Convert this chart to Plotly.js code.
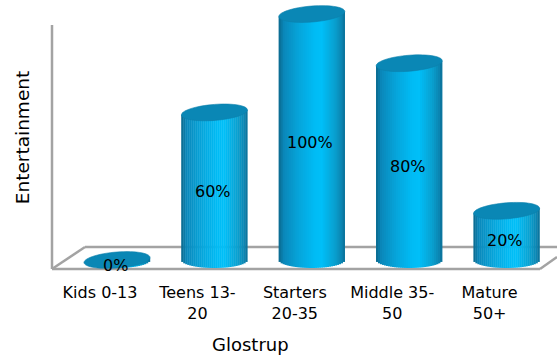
<!DOCTYPE html>
<html>
<head>
<meta charset="utf-8">
<script src="https://cdn.plot.ly/plotly-3.0.1.min.js"></script>
<style>
  html, body { margin: 0; padding: 0; background: #fff; }
  #chart { width: 557px; height: 355px; }
</style>
</head>
<body>
<div id="chart"></div>
<script>
// Age groups and the share of each that picked entertainment
const categories = ["Kids 0-13", "Teens 13-<br>20", "Starters<br>20-35", "Middle 35-<br>50", "Mature<br>50+"];
const shares = [0, 60, 100, 80, 20];
const shareLabels = shares.map(v => v + "%");
const xTitle = "Glostrup";
const yTitle = "Entertainment";

// Plot area and scales (pixels)
const W = 557, H = 355;
const M = { l: 52, r: 0, t: 0, b: 80 };
const xRange = [-0.493, 4.692];
const yRange = [-6.1, 105.7];
const pxX = (W - M.l - M.r) / (xRange[1] - xRange[0]);
const pxY = (H - M.t - M.b) / (yRange[1] - yRange[0]);

// Cylinder geometry in axis units
const depthShift = 17 / pxX;        // bars sit behind the tick labels (3D depth)
const halfW = 33 / pxX;             // cylinder radius along x
const capR = 8 / pxY;               // ellipse radius along y
const tilt = 2.5 / pxY;             // top cap is slightly sheared

// Horizontal shading across the cylinder body
const stops = [
  [0.00, [11, 104, 140]],
  [0.08, [10, 136, 186]],
  [0.30, [6, 164, 218]],
  [0.55, [0, 188, 245]],
  [0.65, [0, 191, 248]],
  [0.85, [9, 160, 208]],
  [0.96, [11, 132, 176]],
  [1.00, [11, 110, 148]]
];
function shade(u) {
  for (let k = 1; k < stops.length; k++) {
    if (u <= stops[k][0]) {
      const a = stops[k - 1], b = stops[k];
      const f = (u - a[0]) / (b[0] - a[0]);
      const c = a[1].map((v, i) => Math.round(v + (b[1][i] - v) * f));
      return `rgb(${c[0]},${c[1]},${c[2]})`;
    }
  }
  return "rgb(11,110,148)";
}

// Body: thin overlaid bar strips, each following the round bottom edge
const N = 33;
const stripW = (2 * halfW) / N;
const idx = shares.map((_, i) => i);
const traces = [];
for (let j = 0; j < N; j++) {
  const c = -halfW + (j + 0.5) * stripW;
  const t = c / halfW;
  const curve = capR * Math.sqrt(Math.max(0, 1 - t * t));
  const base = shares.map(() => -curve);
  const len = shares.map(v => v + t * tilt + curve);
  traces.push({
    type: "bar",
    x: idx,
    y: len,
    base: base,
    width: stripW * 1.2,
    offset: depthShift + c - stripW * 0.6,
    marker: { color: shade((j + 0.5) / N), line: { width: 0 } },
    hoverinfo: "skip",
    showlegend: false
  });
}

// Top caps as sheared ellipses
const shapes = [];
shares.forEach((v, i) => {
  const cx = i + depthShift;
  let d = "";
  for (let k = 0; k <= 60; k++) {
    const th = (k / 60) * 2 * Math.PI;
    const x = cx + halfW * Math.cos(th);
    const y = v + capR * Math.sin(th) + tilt * Math.cos(th);
    d += (k === 0 ? "M" : "L") + x.toFixed(4) + "," + y.toFixed(4);
  }
  d += "Z";
  shapes.push({
    type: "path", xref: "x", yref: "y", path: d,
    fillcolor: "#0a87b5", line: { color: "#0b7fab", width: 0.6 }, layer: "above"
  });
});

// Frame of the 3D floor and back wall (pixel positions -> paper)
const fx = px => (px - M.l) / (W - M.l - M.r);
const fy = py => (H - M.b - py) / (H - M.t - M.b);
const frameColor = "#a3a3a3";
const frameLines = [
  [52, 25, 52, 269],     // wall
  [52, 269, 540, 269],   // front floor edge
  [52, 269, 85, 247],    // left floor side
  [85, 247, 557, 247],   // back floor edge
  [540, 269, 557, 257]   // right floor side
];
frameLines.forEach(l => {
  shapes.push({
    type: "line", xref: "paper", yref: "paper",
    x0: fx(l[0]), y0: fy(l[1]), x1: fx(l[2]), y1: fy(l[3]),
    line: { color: frameColor, width: 2.5 }, layer: "below"
  });
});

const FONT = "DejaVu Sans, Verdana, sans-serif";

// Value labels at mid-height of each cylinder
const annotations = shares.map((v, i) => ({
  x: i + depthShift - 1.5 / pxX, y: v / 2, xref: "x", yref: "y",
  text: shareLabels[i], showarrow: false, yshift: -5,
  font: { family: FONT, size: 16, color: "#000" }
}));

// Category axis title, centred under the front of the floor
annotations.push({
  x: fx(250), y: fy(345), xref: "paper", yref: "paper",
  text: xTitle, showarrow: false, xanchor: "center", yanchor: "middle",
  font: { family: FONT, size: 18, color: "#000" }
});

const layout = {
  width: W, height: H,
  margin: M,
  paper_bgcolor: "#fff", plot_bgcolor: "#fff",
  barmode: "overlay",
  font: { family: FONT, color: "#000" },
  xaxis: {
    range: xRange, tickvals: idx, ticktext: categories,
    showgrid: false, zeroline: false, showline: false, ticks: "",
    tickfont: { size: 16, color: "#000" }, ticklabelstandoff: 6,
    automargin: false, fixedrange: true
  },
  yaxis: {
    range: yRange, showgrid: false, zeroline: false, showline: false,
    showticklabels: false, ticks: "",
    title: { text: yTitle, font: { size: 18.5, color: "#000" }, standoff: 16 },
    automargin: false, fixedrange: true
  },
  shapes: shapes,
  annotations: annotations
};

Plotly.newPlot("chart", traces, layout, { displayModeBar: false, staticPlot: true });
</script>
</body>
</html>
